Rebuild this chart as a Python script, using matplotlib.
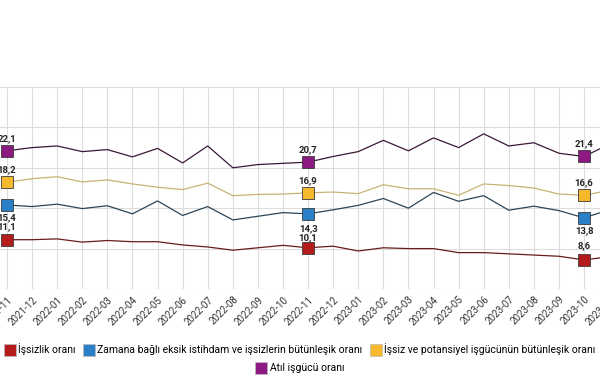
import numpy as np
import matplotlib.pyplot as plt
from matplotlib.lines import Line2D

plt.rcParams['font.family'] = ['Roboto', 'DejaVu Sans']

# months shown on the x axis
months = ['2021-11', '2021-12', '2022-01', '2022-02', '2022-03', '2022-04',
          '2022-05', '2022-06', '2022-07', '2022-08', '2022-09', '2022-10',
          '2022-11', '2022-12', '2023-01', '2023-02', '2023-03', '2023-04',
          '2023-05', '2023-06', '2023-07', '2023-08', '2023-09', '2023-10',
          '2023-11']

# series values
issizlik = [11.1, 11.1, 11.2, 10.8, 11.0, 10.85, 10.85, 10.45, 10.2, 9.8, 10.1, 10.4,
            10.1, 10.3, 9.7, 10.1, 10.0, 10.0, 9.5, 9.5, 9.35, 9.2, 9.05, 8.6, 9.0]
zamana = [15.4, 15.2, 15.5, 14.95, 15.3, 14.3, 15.9, 14.1, 15.2, 13.55, 14.0, 14.45,
          14.3, 14.8, 15.35, 16.2, 15.0, 16.95, 15.85, 16.55, 14.75, 15.25, 14.7, 13.8, 14.8]
potansiyel = [18.2, 18.65, 18.9, 18.25, 18.5, 18.0, 17.6, 17.3, 18.1, 16.55, 16.7, 16.75,
              16.9, 17.0, 16.8, 17.9, 17.4, 17.4, 16.6, 18.0, 17.8, 17.5, 16.75, 16.6, 17.2]
atil = [22.1, 22.5, 22.7, 22.0, 22.25, 21.35, 22.4, 20.6, 22.7, 20.0, 20.4, 20.55,
        20.7, 21.4, 22.0, 23.4, 22.1, 23.7, 22.5, 24.2, 22.7, 23.1, 21.8, 21.4, 22.9]

names = ['İşsizlik oranı',
         'Zamana bağlı eksik istihdam ve işsizlerin bütünleşik oranı',
         'İşsiz ve potansiyel işgücünün bütünleşik oranı',
         'Atıl işgücü oranı']
series = [issizlik, zamana, potansiyel, atil]
marker_cols = ['#b41c1c', '#2a7fc6', '#f6b82c', '#8c1a80']
line_cols = ['#6a1c1c', '#2b4658', '#c9b276', '#3b1838']
label_idx = [0, 12, 23]
# label offset (points) for each labelled month
label_dy = [[9.5, 7.0, 10.5], [-9.5, -10.5, -9.5], [9, 9, 9], [9, 9, 9]]

fig = plt.figure(figsize=(6, 3.8), dpi=100)
ax = fig.add_axes([-0.0092, 0.2395, 1.0453, 0.5316])
x = np.arange(len(months))

for s, mc, lc, dys in zip(series, marker_cols, line_cols, label_dy):
    ax.plot(x, s, color=lc, lw=0.9, zorder=3)
    for i, dy in zip(label_idx, dys):
        ax.plot(x[i], s[i], 's', ms=8.5, mfc=mc, mec='#3a3a3a', mew=0.6, zorder=4)
        ax.annotate(f'{s[i]:.1f}'.replace('.', ','), (x[i], s[i]),
                    xytext=(0, dy), textcoords='offset points',
                    ha='center', va='center', fontsize=6.8, fontweight='bold',
                    color='#222222', zorder=5)

ax.set_xlim(-0.5, 24.5)
ax.set_ylim(5, 30)
ax.set_yticks([5, 10, 15, 20, 25, 30])
ax.set_yticklabels([])
ax.set_xticks(x)
ax.set_xticklabels(months, rotation=45, ha='right', rotation_mode='anchor',
                   fontsize=7, color='#333333')
ax.tick_params(length=0, pad=4)
ax.grid(True, color='#dddddd', lw=0.8)
ax.set_axisbelow(True)
for sp in ax.spines.values():
    sp.set_visible(False)

handles = [Line2D([], [], marker='s', ls='none', ms=8, mfc=c, mec='#bbbbbb', mew=0.5)
           for c in marker_cols]
fig.legend(handles[:3], names[:3], loc='center', bbox_to_anchor=(0.5, 0.081),
           ncol=3, frameon=False, fontsize=7.5, handletextpad=0.3,
           columnspacing=0.8, handlelength=1.0)
fig.legend(handles[3:], names[3:], loc='center', bbox_to_anchor=(0.5, 0.031),
           frameon=False, fontsize=7.5, handletextpad=0.3, handlelength=1.0)

plt.savefig('out.png', dpi=100)
